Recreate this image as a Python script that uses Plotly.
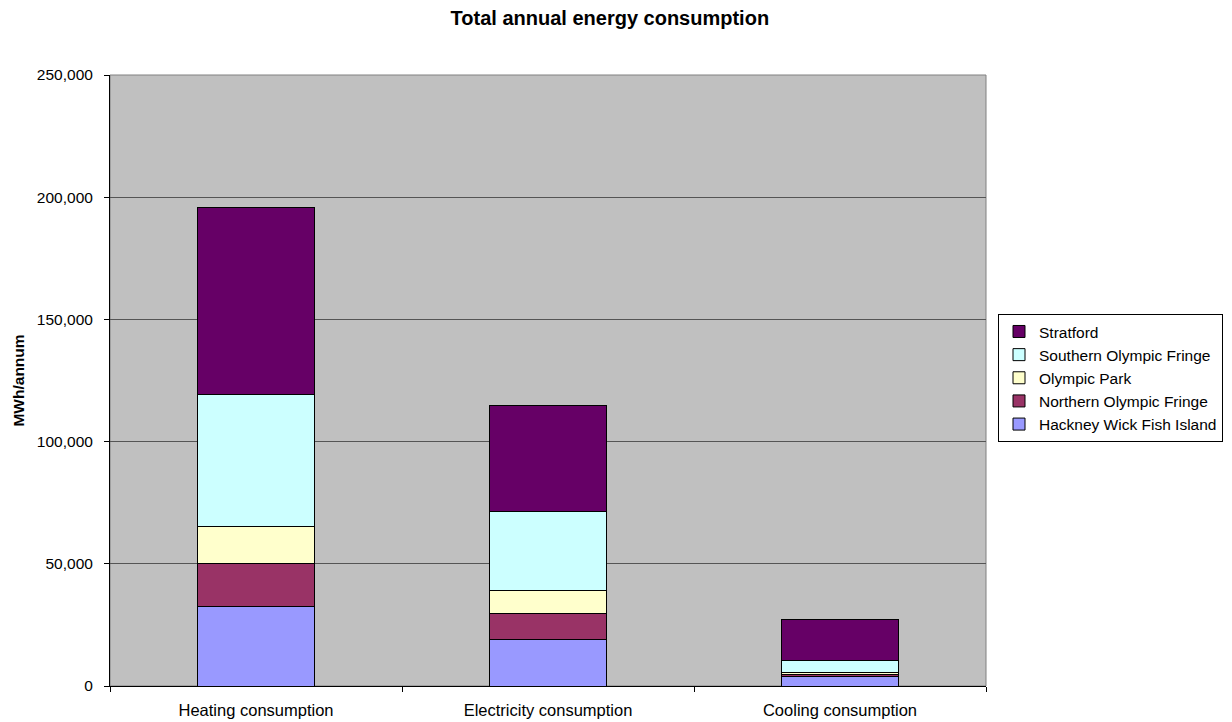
import plotly.graph_objects as go

categories = ["Heating consumption", "Electricity consumption", "Cooling consumption"]
series_names = ["Hackney Wick Fish Island", "Northern Olympic Fringe", "Olympic Park",
                "Southern Olympic Fringe", "Stratford"]
hackney = [32600, 19200, 3800]
northern = [17500, 10600, 1000]
olympic_park = [15000, 9100, 650]
southern = [54300, 32450, 4800]
stratford = [76200, 43600, 17050]
colors = ["#9999FF", "#993366", "#FFFFCC", "#CCFFFF", "#660066"]

values = [hackney, northern, olympic_park, southern, stratford]

fig = go.Figure()
for name, vals, col in zip(series_names, values, colors):
    fig.add_trace(go.Bar(x=categories, y=vals, name=name,
                         marker=dict(color=col, line=dict(color="black", width=1))))

fig.update_layout(
    barmode="stack",
    bargap=0.6,
    width=1232, height=722,
    margin=dict(l=110, r=246, t=75, b=36, autoexpand=False),
    paper_bgcolor="white",
    plot_bgcolor="#C0C0C0",
    font=dict(family="Arial, Liberation Sans, sans-serif", size=16, color="black"),
    title=dict(text="<b>Total annual energy consumption</b>", x=0.495, xanchor="center",
               xref="container", y=0.975, yanchor="middle", font=dict(size=20)),
    legend=dict(x=1.0137, xanchor="left", y=0.609, yanchor="top",
                traceorder="reversed", bordercolor="black", borderwidth=1,
                bgcolor="white", font=dict(size=15.5), itemwidth=30, tracegroupgap=0),
    showlegend=True,
    shapes=[dict(type="rect", xref="paper", yref="paper", x0=0, x1=1, y0=0, y1=1,
                 line=dict(color="#808080", width=1), layer="below")],
)
fig.update_xaxes(showline=True, linecolor="black", linewidth=1, mirror=False,
                 ticks="outside", tickson="boundaries", ticklen=5, tickcolor="black",
                 tickfont=dict(size=16.5), ticklabelstandoff=9)
fig.update_yaxes(range=[0, 250000], dtick=50000, tickformat=",", showline=True,
                 linecolor="black", linewidth=1, ticks="outside", ticklen=5,
                 tickcolor="black", showgrid=True, gridcolor="#555555", gridwidth=1,
                 zeroline=False, tickfont=dict(size=15.5), ticklabelstandoff=8,
                 title=dict(text="<b>MWh/annum</b>", font=dict(size=15.5), standoff=8))
fig.write_html("out.html")
